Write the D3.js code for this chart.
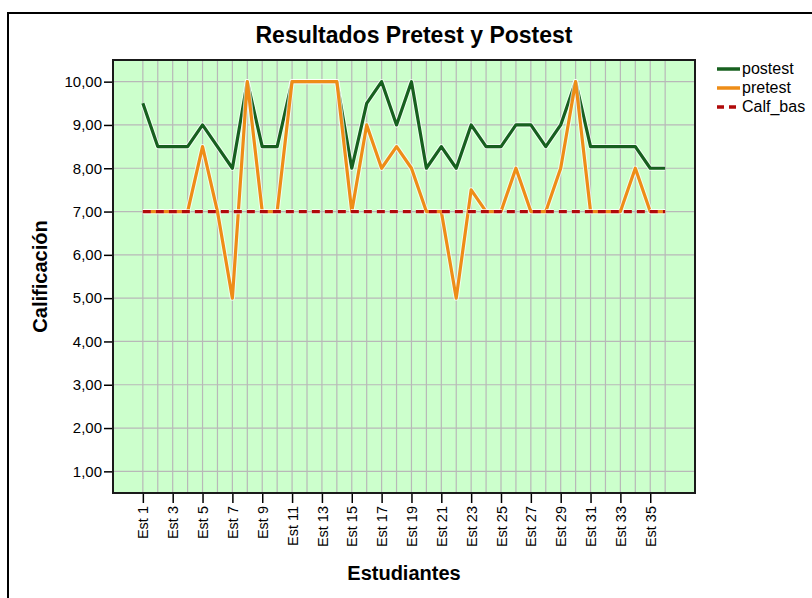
<!DOCTYPE html>
<html>
<head>
<meta charset="utf-8">
<script src="https://cdn.jsdelivr.net/npm/d3@7"></script>
<style>
  body { margin: 0; background: #fff; }
  svg text { font-family: Arial, "Liberation Sans", sans-serif; fill: #000; }
  .grid line { stroke: #b8b8b8; stroke-width: 1.2; }
  .axis path { display: none; }
  .axis line { stroke: #000; stroke-width: 1.5; }
</style>
</head>
<body>
<div id="chart"></div>
<script>
const estudiantes = ["Est 1","Est 2","Est 3","Est 4","Est 5","Est 6","Est 7","Est 8","Est 9","Est 10",
  "Est 11","Est 12","Est 13","Est 14","Est 15","Est 16","Est 17","Est 18","Est 19","Est 20",
  "Est 21","Est 22","Est 23","Est 24","Est 25","Est 26","Est 27","Est 28","Est 29","Est 30",
  "Est 31","Est 32","Est 33","Est 34","Est 35","Est 36"];

const postest = [9.5, 8.5, 8.5, 8.5, 9, 8.5, 8, 10, 8.5, 8.5,
  10, 10, 10, 10, 8, 9.5, 10, 9, 10, 8,
  8.5, 8, 9, 8.5, 8.5, 9, 9, 8.5, 9, 10,
  8.5, 8.5, 8.5, 8.5, 8, 8];

const pretest = [7, 7, 7, 7, 8.5, 7, 5, 10, 7, 7,
  10, 10, 10, 10, 7, 9, 8, 8.5, 8, 7,
  7, 5, 7.5, 7, 7, 8, 7, 7, 8, 10,
  7, 7, 7, 8, 7, 7];

const calfBas = [7, 7, 7, 7, 7, 7, 7, 7, 7, 7,
  7, 7, 7, 7, 7, 7, 7, 7, 7, 7,
  7, 7, 7, 7, 7, 7, 7, 7, 7, 7,
  7, 7, 7, 7, 7, 7];

const yTicks = [1, 2, 3, 4, 5, 6, 7, 8, 9, 10];
const xTickLabels = ["Est 1","Est 3","Est 5","Est 7","Est 9","Est 11","Est 13","Est 15","Est 17",
  "Est 19","Est 21","Est 23","Est 25","Est 27","Est 29","Est 31","Est 33","Est 35"];

const series = [
  { name: "postest", values: postest, color: "#17601f", dash: null },
  { name: "pretest", values: pretest, color: "#ee8d17", dash: null },
  { name: "Calf_bas", values: calfBas, color: "#b00a0a", dash: "8,5" }
];

const W = 812, H = 598;
const plot = { left: 113, right: 695, top: 60, bottom: 493 };

const svg = d3.select("#chart").append("svg")
  .attr("width", W)
  .attr("height", H);

// outer frame (cut by the picture edge on right and bottom)
svg.append("path")
  .attr("d", `M8,${H + 5} L8,13 L${W + 5},13`)
  .attr("fill", "none")
  .attr("stroke", "#000")
  .attr("stroke-width", 2);

const x = d3.scalePoint()
  .domain(estudiantes)
  .range([plot.left, plot.right])
  .padding(2);

const y = d3.scaleLinear()
  .domain([0.5, 10.5])
  .range([plot.bottom, plot.top]);

const fmt = d => d3.format(".2f")(d).replace(".", ",");

// plot background
svg.append("rect")
  .attr("x", plot.left)
  .attr("y", plot.top)
  .attr("width", plot.right - plot.left)
  .attr("height", plot.bottom - plot.top)
  .attr("fill", "#ccffcc");

// gridlines
svg.append("g")
  .attr("class", "grid")
  .selectAll("line.v")
  .data(estudiantes)
  .join("line")
  .attr("x1", d => x(d)).attr("x2", d => x(d))
  .attr("y1", plot.top).attr("y2", plot.bottom);

svg.append("g")
  .attr("class", "grid")
  .selectAll("line.h")
  .data(yTicks)
  .join("line")
  .attr("x1", plot.left).attr("x2", plot.right)
  .attr("y1", d => y(d)).attr("y2", d => y(d));

// axes
svg.append("g")
  .attr("class", "axis")
  .attr("transform", `translate(${plot.left},0)`)
  .call(d3.axisLeft(y).tickValues(yTicks).tickFormat(fmt).tickSize(9).tickPadding(2))
  .selectAll("text")
  .style("font-size", "15px");

const xAxis = svg.append("g")
  .attr("class", "axis")
  .attr("transform", `translate(0,${plot.bottom})`)
  .call(d3.axisBottom(x).tickValues(xTickLabels).tickSize(10).tickPadding(2));

xAxis.selectAll("text")
  .style("font-size", "14.5px")
  .attr("text-anchor", "end")
  .attr("transform", "rotate(-90)")
  .attr("x", -13)
  .attr("y", 0)
  .attr("dy", "0.35em");

// lines
const line = d3.line()
  .x((d, i) => x(estudiantes[i]))
  .y(d => y(d));

series.forEach(s => {
  svg.append("path")
    .datum(s.values)
    .attr("d", line)
    .attr("fill", "none")
    .attr("stroke", "#fff")
    .attr("stroke-opacity", 0.7)
    .attr("stroke-width", 5.2)
    .attr("stroke-linejoin", "round")
    .attr("stroke-dasharray", s.dash);
  svg.append("path")
    .datum(s.values)
    .attr("d", line)
    .attr("fill", "none")
    .attr("stroke", s.color)
    .attr("stroke-width", 3.2)
    .attr("stroke-linejoin", "round")
    .attr("stroke-dasharray", s.dash);
});

// plot border
svg.append("rect")
  .attr("x", plot.left)
  .attr("y", plot.top)
  .attr("width", plot.right - plot.left)
  .attr("height", plot.bottom - plot.top)
  .attr("fill", "none")
  .attr("stroke", "#1a1a1a")
  .attr("stroke-width", 2);

// titles
svg.append("text")
  .attr("x", 414)
  .attr("y", 43)
  .attr("text-anchor", "middle")
  .style("font-size", "23px")
  .style("font-weight", "bold")
  .text("Resultados Pretest y Postest");

svg.append("text")
  .attr("transform", `translate(47,${(plot.top + plot.bottom) / 2}) rotate(-90)`)
  .attr("text-anchor", "middle")
  .style("font-size", "20px")
  .style("font-weight", "bold")
  .text("Calificación");

svg.append("text")
  .attr("x", (plot.left + plot.right) / 2)
  .attr("y", 580)
  .attr("text-anchor", "middle")
  .style("font-size", "20px")
  .style("font-weight", "bold")
  .text("Estudiantes");

// legend
const legend = svg.append("g")
  .selectAll("g")
  .data(series)
  .join("g")
  .attr("transform", (d, i) => `translate(717,${69 + i * 19})`);

legend.append("line")
  .attr("x1", 0).attr("x2", 23)
  .attr("y1", 0).attr("y2", 0)
  .attr("stroke", d => d.color)
  .attr("stroke-width", 3.5)
  .attr("stroke-dasharray", d => d.dash ? "7,5" : null);

legend.append("text")
  .attr("x", 25)
  .attr("y", 5)
  .style("font-size", "16px")
  .text(d => d.name);
</script>
</body>
</html>
